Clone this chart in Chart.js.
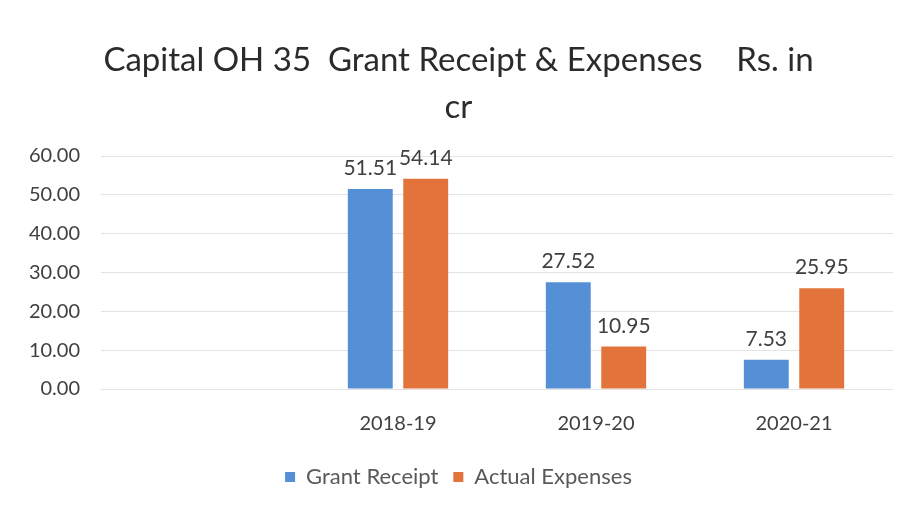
<!DOCTYPE html>
<html>
<head>
<meta charset="utf-8">
<script src="https://cdn.jsdelivr.net/npm/chart.js@4.4.1/dist/chart.umd.min.js"></script>
<style>
html,body{margin:0;padding:0;background:#fff;}
#wrap{width:903px;height:508px;position:relative;}
</style>
</head>
<body>
<div id="wrap"><canvas id="c" width="903" height="508"></canvas></div>
<script>
const categories = ['', '2018-19', '2019-20', '2020-21'];
const grantReceipt = [null, 51.51, 27.52, 7.53];
const actualExpenses = [null, 54.14, 10.95, 25.95];
const titleLines = ['Capital OH 35  Grant Receipt & Expenses    Rs. in', 'cr'];

const FONT = 'Lato, "Open Sans", sans-serif';
const LEFT_PAD = 24;

const valueLabels = {
  id: 'valueLabels',
  afterDatasetsDraw(chart) {
    const ctx = chart.ctx;
    ctx.save();
    ctx.font = '21px ' + FONT;
    ctx.fillStyle = '#404040';
    ctx.textAlign = 'center';
    ctx.textBaseline = 'bottom';
    chart.data.datasets.forEach((ds, i) => {
      const meta = chart.getDatasetMeta(i);
      meta.data.forEach((bar, j) => {
        const v = ds.data[j];
        if (v === null || v === undefined) return;
        ctx.fillText(v.toFixed(2), bar.x, bar.y - 10);
      });
    });
    ctx.restore();
  }
};

new Chart(document.getElementById('c'), {
  type: 'bar',
  data: {
    labels: categories,
    datasets: [
      { label: 'Grant Receipt', data: grantReceipt, backgroundColor: '#5590D6',
        categoryPercentage: 0.56, barPercentage: 0.81 },
      { label: 'Actual Expenses', data: actualExpenses, backgroundColor: '#E2733A',
        categoryPercentage: 0.56, barPercentage: 0.81 }
    ]
  },
  plugins: [valueLabels],
  options: {
    responsive: false,
    animation: false,
    layout: { padding: { left: LEFT_PAD, right: 10, top: 0, bottom: 10 } },
    plugins: {
      title: {
        display: true,
        text: titleLines,
        color: '#2b2b2b',
        font: { family: FONT, size: 33, weight: 'normal', lineHeight: '47px' },
        padding: { top: 37, bottom: 25 }
      },
      legend: {
        position: 'bottom',
        labels: {
          color: '#595959',
          font: { family: FONT, size: 22 },
          boxWidth: 10, boxHeight: 10,
          padding: 15
        }
      },
      tooltip: { enabled: false }
    },
    scales: {
      x: {
        grid: { display: false },
        border: { display: false },
        ticks: { color: '#404040', font: { family: FONT, size: 20 }, padding: 15 }
      },
      y: {
        min: 0, max: 60,
        ticks: {
          stepSize: 10,
          color: '#404040',
          font: { family: FONT, size: 20 },
          padding: 21,
          callback: v => v.toFixed(2)
        },
        grid: { color: '#e3e3e3', drawTicks: false },
        border: { display: false },
        afterFit(s) { s.width = 101 - LEFT_PAD; }
      }
    }
  }
});
</script>
</body>
</html>
